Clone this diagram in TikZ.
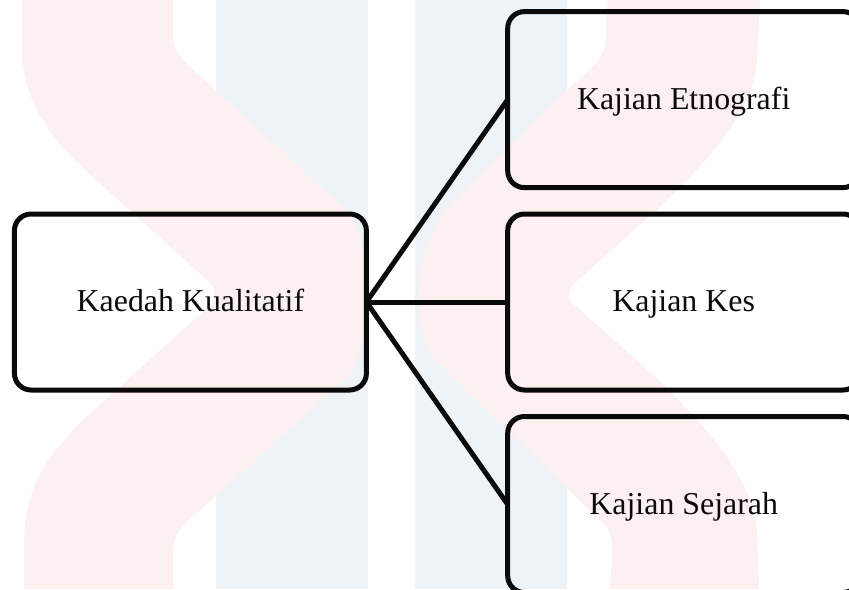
\documentclass[tikz,border=0pt]{standalone}
\usepackage{fontspec}
\setmainfont{Liberation Serif}
\definecolor{wmpink}{HTML}{FDF0F0}
\definecolor{wmblue}{HTML}{EEF3F7}
\definecolor{ink}{HTML}{0A0A0A}
\tikzset{
  kotak/.style={draw=ink,line width=3.75pt,rounded corners=12.5pt,minimum width=264pt,minimum height=132pt,outer sep=0pt,inner sep=0pt,text height=18pt,text depth=3.3pt,font=\fontsize{23.9pt}{28pt}\selectfont,text=ink},
  garis/.style={draw=ink,line width=3.75pt},
  latar/.style={fill=wmpink,draw=none},
  jalur/.style={fill=wmblue,draw=none}
}
\begin{document}
\begin{tikzpicture}[x=0.75pt,y=-0.75pt]
\useasboundingbox (0,0) rectangle (849,589);
\clip (0,0) rectangle (849,589);
\fill[white] (0,0) rectangle (849,589);
\fill[jalur] (215.5,0) rectangle (367.5,589);
\fill[jalur] (415,0) rectangle (567,589);
% left chevron
\path[latar] (22,0) -- (22,50) .. controls (24,100) and (45,135) .. (93,177)
  -- (205,278) .. controls (218,288) and (218,298) .. (205,310)
  -- (93,411) .. controls (45,455) and (24,490) .. (24,545) -- (24,589)
  -- (173,589) -- (173,550) .. controls (173,535) and (180,530) .. (189,520)
  -- (347,378) .. controls (374,345) and (374,245) .. (347,210)
  -- (189,66) .. controls (180,57) and (173,50) .. (173,35) -- (173,0) -- cycle;
% right chevron
\path[latar] (760,0) -- (757,60) .. controls (752,110) and (715,155) .. (653,213)
  -- (578,280) .. controls (566,290) and (566,298) .. (578,308)
  -- (653,375) .. controls (715,435) and (752,480) .. (757,530) -- (759,589)
  -- (610,589) -- (612,560) .. controls (613,545) and (612,535) .. (607,527)
  -- (433,357) .. controls (410,320) and (410,245) .. (457,197)
  -- (567,90) .. controls (590,70) and (605,60) .. (606,40) -- (607,0) -- cycle;
\node[kotak] (kaedah) at (190.4,302) {Kaedah Kualitatif};
\node[kotak] (etno) at (683.7,99.6) {Kajian Etnografi};
\node[kotak] (kes) at (683.7,302) {Kajian Kes};
\node[kotak] (sejarah) at (683.7,504.5) {Kajian Sejarah};
\draw[garis] (kaedah.east) -- (etno.west);
\draw[garis] (kaedah.east) -- (kes.west);
\draw[garis] (kaedah.east) -- (sejarah.west);
\end{tikzpicture}
\end{document}
